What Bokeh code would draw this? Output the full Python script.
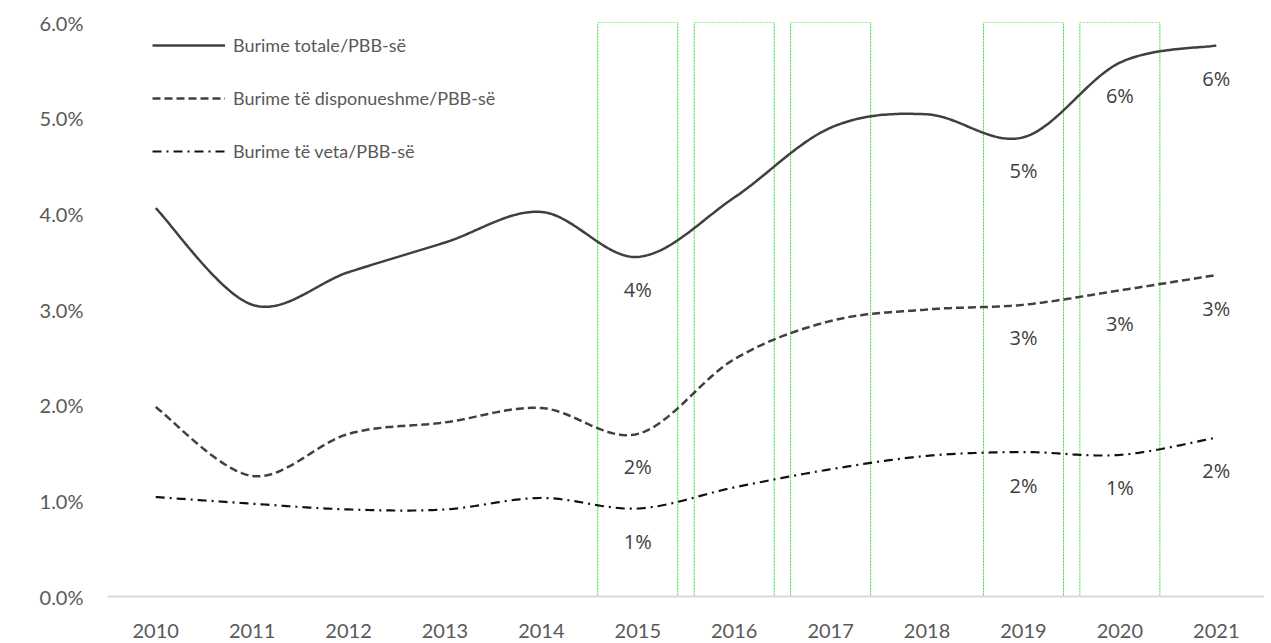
import numpy as np
from bokeh.plotting import figure
from bokeh.models import (Range1d, FixedTicker, PrintfTickFormatter, Legend, LegendItem,
                          ColumnDataSource)
from bokeh.core.properties import value
from bokeh.embed import file_html
from bokeh.resources import INLINE

# ---------------- data ----------------
years = [2010, 2011, 2012, 2013, 2014, 2015, 2016, 2017, 2018, 2019, 2020, 2021]
total = [4.06, 3.05, 3.39, 3.70, 4.02, 3.55, 4.17, 4.90, 5.04, 4.80, 5.58, 5.76]
disp = [1.98, 1.26, 1.70, 1.82, 1.97, 1.70, 2.48, 2.88, 3.00, 3.05, 3.20, 3.36]
own = [1.04, 0.97, 0.91, 0.91, 1.03, 0.92, 1.14, 1.33, 1.47, 1.51, 1.48, 1.66]
series_names = ["Burime totale/PBB-së", "Burime të disponueshme/PBB-së", "Burime të veta/PBB-së"]
label_years = [2015, 2019, 2020, 2021]
box_years = [2015, 2016, 2017, 2019, 2020]
y_ticks = [0, 1, 2, 3, 4, 5, 6]

FONT = "Lato"
TXT = "#595959"


def smooth(xs, ys, n=40):
    """Catmull-Rom style smoothing (as Excel's smoothed line)."""
    P = np.column_stack([np.asarray(xs, float), np.asarray(ys, float)])
    m = len(P)
    out = []
    t = np.linspace(0, 1, n)[:, None]
    for i in range(m - 1):
        p0 = P[i - 1] if i > 0 else P[i]
        p1 = P[i]
        p2 = P[i + 1]
        p3 = P[i + 2] if i + 2 < m else P[i + 1]
        c1 = p1 + (p2 - p0) / 6.0
        c2 = p2 - (p3 - p1) / 6.0
        seg = ((1 - t) ** 3) * p1 + 3 * ((1 - t) ** 2) * t * c1 + 3 * (1 - t) * t ** 2 * c2 + t ** 3 * p2
        out.append(seg if i == 0 else seg[1:])
    arr = np.vstack(out)
    return arr[:, 0], arr[:, 1]


p = figure(width=1264, height=635, output_backend="svg", toolbar_location=None,
           x_range=Range1d(years[0] - 0.5, years[-1] + 0.5), y_range=Range1d(0, 6),
           min_border_left=107, min_border_right=0, min_border_top=22, min_border_bottom=39,
           frame_width=1157, frame_height=574)
p.outline_line_color = None
p.xgrid.visible = False
p.ygrid.visible = False
p.background_fill_color = "white"

# green dotted boxes
p.quad(left=[y - 0.415 for y in box_years], right=[y + 0.415 for y in box_years],
       bottom=[y_ticks[0]] * len(box_years), top=[y_ticks[-1]] * len(box_years),
       fill_color=None, line_color="#2ee02e", line_width=1, line_dash="2 1")

styles = [
    dict(line_color="#404040", line_width=2.5, line_dash="solid"),
    dict(line_color="#404040", line_width=2.5, line_dash="8 4"),
    dict(line_color="#111111", line_width=2.2, line_dash="9 5 2 5"),
]
renderers = []
for vals, st in zip([total, disp, own], styles):
    sx, sy = smooth(years, vals)
    r = p.line(sx, sy, **st)
    renderers.append(r)

# data labels
lx, ly, lt = [], [], []
for vals in [total, disp, own]:
    for yr in label_years:
        v = vals[years.index(yr)]
        lx.append(yr)
        ly.append(v)
        lt.append(f"{int(v + 0.5)}%")
src = ColumnDataSource(dict(x=lx, y=ly, t=lt))
p.text(x="x", y="y", text="t", source=src, text_font=value("Open Sans"), text_font_size="20px",
       text_color="#404040", text_align="center", text_baseline="middle", y_offset=33)

# legend
legend = Legend(items=[LegendItem(label=n, renderers=[r]) for n, r in zip(series_names, renderers)],
                location=(45, 434), orientation="vertical", padding=0, margin=0, spacing=31,
                glyph_width=73, glyph_height=20, label_height=20, label_standoff=8,
                label_text_font=FONT, label_text_font_size="18px", label_text_color=TXT,
                border_line_color=None, background_fill_alpha=0)
p.add_layout(legend)

# axes
p.yaxis.ticker = FixedTicker(ticks=y_ticks)
p.yaxis.formatter = PrintfTickFormatter(format="%.1f%%")
p.yaxis.axis_line_color = None
p.yaxis.major_tick_line_color = None
p.yaxis.minor_tick_line_color = None
p.yaxis.major_tick_out = 0
p.yaxis.major_label_standoff = 24
p.yaxis.major_label_text_font = FONT
p.yaxis.major_label_text_font_size = "20px"
p.yaxis.major_label_text_color = TXT

p.xaxis.ticker = FixedTicker(ticks=years)
p.xaxis.axis_line_color = "#d9d9d9"
p.xaxis.axis_line_width = 2
p.xaxis.major_tick_line_color = None
p.xaxis.minor_tick_line_color = None
p.xaxis.major_tick_out = 0
p.xaxis.major_label_standoff = 27
p.xaxis.major_label_text_font = FONT
p.xaxis.major_label_text_font_size = "20px"
p.xaxis.major_label_text_color = TXT

open("out.html", "w").write(file_html(p, INLINE))
